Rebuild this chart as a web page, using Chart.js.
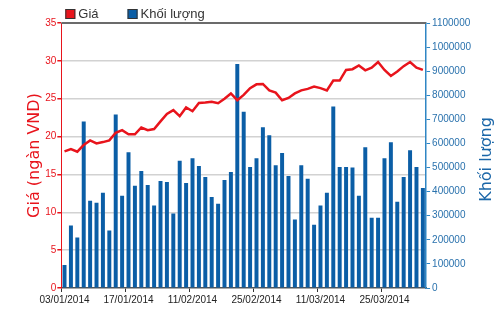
<!DOCTYPE html>
<html>
<head>
<meta charset="utf-8">
<script src="https://cdn.jsdelivr.net/npm/chart.js@4/dist/chart.umd.min.js"></script>
<style>
html, body { margin: 0; padding: 0; background: #fff; }
#wrap { width: 500px; height: 312px; }
</style>
</head>
<body>
<div id="wrap"><canvas id="canvas"></canvas></div>
<script>
// trading days shown on the x axis
var dates = ["03/01/2014", "06/01/2014", "07/01/2014", "08/01/2014", "09/01/2014", "10/01/2014",
    "13/01/2014", "14/01/2014", "15/01/2014", "16/01/2014", "17/01/2014", "20/01/2014",
    "21/01/2014", "22/01/2014", "23/01/2014", "24/01/2014", "27/01/2014", "28/01/2014",
    "07/02/2014", "10/02/2014", "11/02/2014", "12/02/2014", "13/02/2014", "14/02/2014",
    "17/02/2014", "18/02/2014", "19/02/2014", "20/02/2014", "21/02/2014", "24/02/2014",
    "25/02/2014", "26/02/2014", "27/02/2014", "28/02/2014", "03/03/2014", "04/03/2014",
    "05/03/2014", "06/03/2014", "07/03/2014", "10/03/2014", "11/03/2014", "12/03/2014",
    "13/03/2014", "14/03/2014", "17/03/2014", "18/03/2014", "19/03/2014", "20/03/2014",
    "21/03/2014", "24/03/2014", "25/03/2014", "26/03/2014", "27/03/2014", "28/03/2014",
    "31/03/2014", "01/04/2014", "02/04/2014"];
var shownDates = ["03/01/2014", "17/01/2014", "11/02/2014", "25/02/2014", "11/03/2014", "25/03/2014"];

// Giá (ngàn VND)
var priceData = [18.05, 18.35, 18.0, 18.9, 19.5, 19.1, 19.27, 19.5, 20.5, 20.85,
    20.3, 20.3, 21.2, 20.85, 21.0, 22.0, 23.0, 23.5, 22.7, 23.85,
    23.35, 24.45, 24.5, 24.6, 24.4, 25.0, 25.7, 24.8, 25.5, 26.4,
    26.9, 26.95, 26.1, 25.8, 24.8, 25.1, 25.7, 26.1, 26.3, 26.6,
    26.4, 26.1, 27.4, 27.4, 28.8, 28.9, 29.4, 28.75, 29.1, 29.85,
    28.8, 28.0, 28.6, 29.3, 29.85, 29.1, 28.8];

// Khối lượng
var volumeData = [95000, 259000, 210000, 691000, 362000, 354000, 395000, 239000, 720000, 383000,
    564000, 424000, 486000, 428000, 342000, 444000, 440000, 309000, 528000, 436000,
    539000, 506000, 461000, 378000, 350000, 448000, 481000, 930000, 732000, 502000,
    539000, 667000, 634000, 510000, 560000, 465000, 284000, 510000, 453000, 263000,
    342000, 395000, 753000, 502000, 502000, 500000, 383000, 584000, 292000, 292000,
    539000, 605000, 358000, 461000, 572000, 502000, 415000];

var red = "#e8141c";
var blue = "#0b5ea6";
var axisBlue = "#2f86c4";

// top border, legend and right axis title
const decor = {
    id: "decor",
    afterDraw(chart) {
        const ctx = chart.ctx;
        const area = chart.chartArea;
        ctx.save();
        ctx.strokeStyle = "#6b6b6b";
        ctx.lineWidth = 2;
        ctx.beginPath();
        ctx.moveTo(area.left, area.top);
        ctx.lineTo(area.right, area.top);
        ctx.stroke();

        // legend
        ctx.font = "13px 'Liberation Sans'";
        ctx.textBaseline = "middle";
        let x = area.left + 4;
        const y = area.top - 9;
        chart.data.datasets.forEach(ds => {
            const c = ds.type == "line" ? ds.borderColor : ds.backgroundColor;
            ctx.fillStyle = c;
            ctx.fillRect(x, y - 5, 10, 10);
            ctx.strokeStyle = "#333";
            ctx.lineWidth = 1;
            ctx.strokeRect(x + 0.5, y - 4.5, 9, 9);
            ctx.fillStyle = "#333";
            ctx.fillText(ds.label, x + 13, y);
            x += 13 + ctx.measureText(ds.label).width + 29;
        });

        // right title, read bottom to top like the left one
        const yr = chart.scales.y1;
        ctx.translate(yr.right + 14, (area.top + area.bottom) / 2 + 4);
        ctx.rotate(-Math.PI / 2);
        ctx.font = "16px 'DejaVu Sans'";
        ctx.fillStyle = "#1a66a8";
        ctx.textAlign = "center";
        ctx.fillText("Khối lượng", 0, 0);
        ctx.restore();
    }
};

const canvas = document.getElementById("canvas");
const data = {
    labels: dates,
    datasets: [
        {
            type: "line",
            label: "Giá",
            data: priceData,
            borderColor: red,
            backgroundColor: red,
            borderWidth: 2.5,
            pointRadius: 0,
            tension: 0,
            yAxisID: "y",
            order: 0
        },
        {
            type: "bar",
            label: "Khối lượng",
            data: volumeData,
            backgroundColor: blue,
            barPercentage: 0.62,
            categoryPercentage: 1,
            yAxisID: "y1",
            order: 1
        }
    ]
};
const options = {
    responsive: true,
    maintainAspectRatio: false,
    animation: false,
    layout: { padding: { top: 23, left: 25, right: 27, bottom: 4 } },
    plugins: {
        legend: { display: false },
        tooltip: { enabled: false }
    },
    scales: {
        x: {
            offset: true,
            grid: {
                drawOnChartArea: false,
                tickLength: 4,
                tickColor: c => shownDates.indexOf(dates[c.index]) >= 0 ? "#333" : "rgba(0,0,0,0)"
            },
            border: { color: "#555", width: 1.5 },
            ticks: {
                autoSkip: false,
                maxRotation: 0,
                padding: 2,
                color: "#222",
                font: { family: "Liberation Sans", size: 10 },
                callback: function (v, i) {
                    return shownDates.indexOf(dates[i]) >= 0 ? dates[i] : "";
                }
            }
        },
        y: {
            position: "left",
            min: 0,
            max: 35,
            ticks: {
                stepSize: 5,
                padding: 1,
                color: red,
                font: { family: "Liberation Sans", size: 10 }
            },
            grid: {
                color: c => (c.tick.value == 0 || c.tick.value == 35) ? "rgba(0,0,0,0)" : "#d2d2d2",
                lineWidth: 1.5,
                tickColor: red,
                tickLength: 4
            },
            border: { color: red, width: 1 },
            title: {
                display: true,
                text: "Giá (ngàn VND)",
                color: red,
                font: { family: "DejaVu Sans", size: 16 },
                padding: { top: 0, bottom: 0 }
            }
        },
        y1: {
            position: "right",
            min: 0,
            max: 1100000,
            ticks: {
                stepSize: 100000,
                padding: 2,
                color: "#2a72ad",
                font: { family: "Liberation Sans", size: 10 },
                callback: v => String(v)
            },
            grid: {
                drawOnChartArea: false,
                tickColor: axisBlue,
                tickLength: 4
            },
            border: { color: axisBlue, width: 1.5 }
        }
    }
};
const chart = new Chart(canvas, {
    data: data,
    options: options,
    plugins: [decor]
});
</script>
</body>
</html>
